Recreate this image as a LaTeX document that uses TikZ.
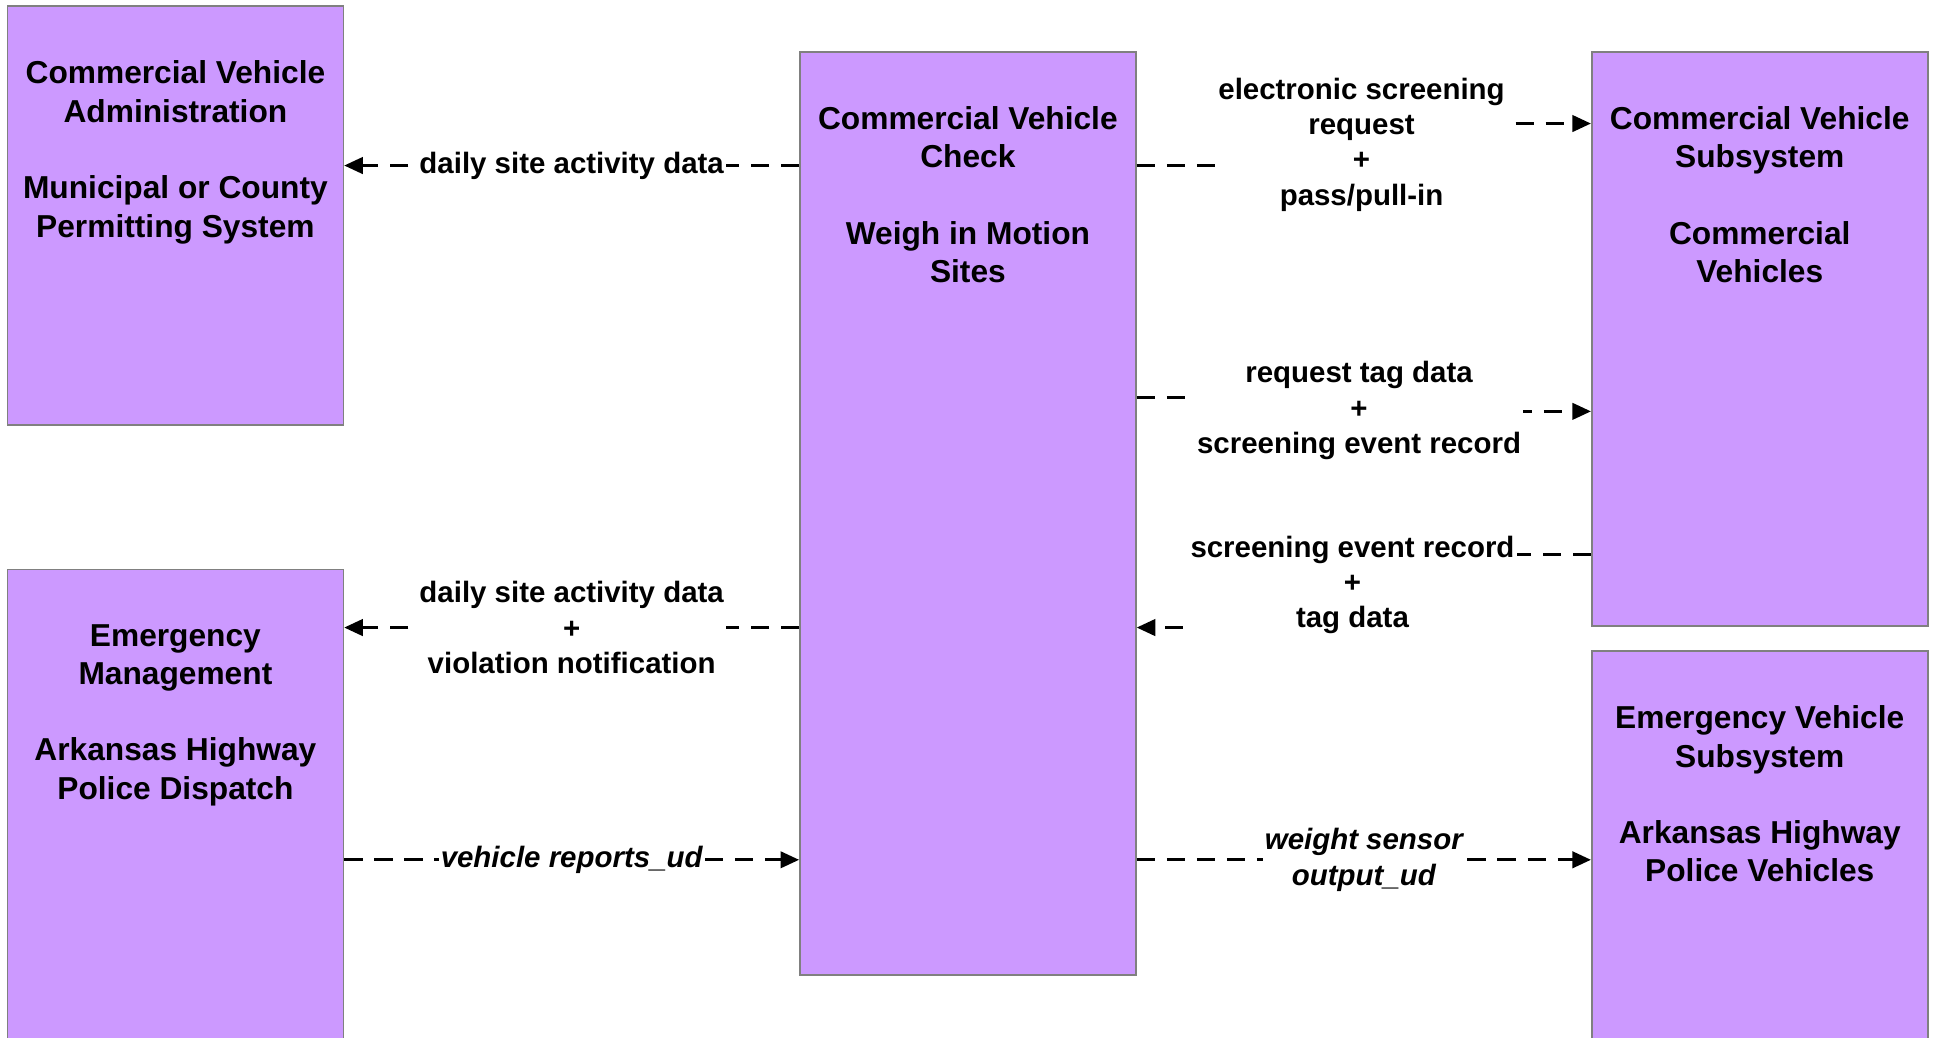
\documentclass[tikz,border=0pt]{standalone}
\usepackage{fontspec}
\setmainfont{Liberation Sans}
\usetikzlibrary{positioning,arrows.meta}
\definecolor{boxfill}{RGB}{204,153,255}
\definecolor{boxline}{RGB}{128,128,128}

\begin{document}
\begin{tikzpicture}[x=0.6pt, y=-0.6pt,
  box/.style = {draw=boxline, line width=0.8pt, fill=boxfill, minimum width=163.2pt, inner sep=0pt},
  boxtxt/.style = {align=center, inner sep=0pt, font=\bfseries\fontsize{15.4}{18.6}\selectfont},
  lbl/.style = {fill=white, align=center, inner sep=1pt, font=\bfseries\fontsize{14.3}{17.2}\selectfont},
  ital/.style = {font=\bfseries\itshape\fontsize{14.3}{17.2}\selectfont},
  flow/.style = {line width=1.3pt, dash pattern=on 8.9pt off 5.7pt, -{Triangle[length=9pt,width=8pt]}}]
  \useasboundingbox (0,0) rectangle (1568,839.5);
  \clip (0,0) rectangle (1568,839.5);
  % boxes
  \node[box, minimum height=203.4pt] (cva) at (142,174.5) {};
  \node[box, minimum height=233.4pt] (em) at (142,655.5) {};
  \node[box, minimum height=448.2pt] (cvc) at (783.5,415.5) {};
  \node[box, minimum height=279pt] (cvs) at (1424.5,274.5) {};
  \node[box, minimum height=193.8pt] (evs) at (1424.5,688.5) {};
  \node[boxtxt, below=26.8pt of cva.north] (cvaT) {Commercial Vehicle\\Administration\\[18.6pt]Municipal or County\\Permitting System};
  \node[boxtxt, below=26.8pt of em.north] (emT) {Emergency\\Management\\[18.6pt]Arkansas Highway\\Police Dispatch};
  \node[boxtxt, below=26.8pt of cvc.north] (cvcT) {Commercial Vehicle\\Check\\[18.6pt]Weigh in Motion\\Sites};
  \node[boxtxt, below=26.8pt of cvs.north] (cvsT) {Commercial Vehicle\\Subsystem\\[18.6pt]Commercial\\Vehicles};
  \node[boxtxt, below=26.8pt of evs.north] (evsT) {Emergency Vehicle\\Subsystem\\[18.6pt]Arkansas Highway\\Police Vehicles};
  % flows
  \draw[flow] (cvc.west |- 0,134) -- node[lbl] {daily site activity data} (cva.east |- 0,134);
  \draw[flow] (cvc.east |- 0,134) -- ++(182,0) |- node[lbl, pos=0.25] {electronic screening\\request\\+\\pass/pull-in} (cvs.west |- 0,100);
  \draw[flow] (cvc.east |- 0,322) -- ++(180,0) |- node[lbl, pos=0.25, yshift=-3pt] {request tag data\\+\\screening event record} (cvs.west |- 0,333);
  \draw[flow] (cvs.west |- 0,449) -- ++(-193,0) |- node[lbl, pos=0.25, yshift=3pt] {screening event record\\+\\tag data} (cvc.east |- 0,508);
  \draw[flow] (cvc.west |- 0,508) -- node[lbl] {daily site activity data\\+\\violation notification} (em.east |- 0,508);
  \draw[flow] (em.east |- 0,696) -- node[lbl, ital] {vehicle reports\_ud} (cvc.west |- 0,696);
  \draw[flow] (cvc.east |- 0,696) -- node[lbl, ital] {weight sensor\\output\_ud} (evs.west |- 0,696);
\end{tikzpicture}
\end{document}
